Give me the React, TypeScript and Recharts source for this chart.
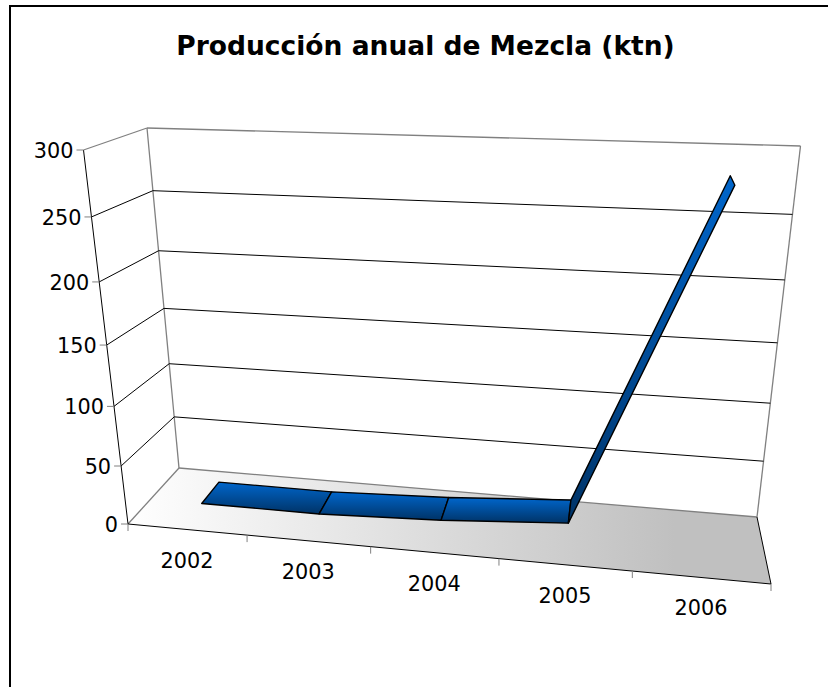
import { LineChart, Line, XAxis, YAxis, CartesianGrid } from 'recharts';

const years = ['2002', '2003', '2004', '2005', '2006'];
const production = [6, 6, 10, 17, 282];
const valueTicks = [0, 50, 100, 150, 200, 250, 300];

const WIDTH = 828;
const HEIGHT = 687;
const FONT = '"DejaVu Sans", Verdana, sans-serif';
// the axes take 1px each (a 0px axis draws nothing), so the plot is 100..700 by 100..600
const MARGIN = { top: 100, right: 128, bottom: 86, left: 99 };
const PLOT_LEFT = 100;
const PLOT_W = 600;
const PLOT_BOTTOM = 600;
const PLOT_H = 500;

// corners of the 3D box on screen: [depth: front/back][side: left/right][height: floor/top]
type Pt = [number, number];
const BOX: Pt[][][] = [
  [
    [[128, 524], [83.5, 150]],
    [[771, 584], [822, 169]],
  ],
  [
    [[179, 468], [147, 128]],
    [[757, 517], [800.5, 146]],
  ],
];
const RIBBON_FRONT = 0.34;
const RIBBON_BACK = 0.72;

const warp = (t: number, r: number) => t / (t + (1 - t) * r);
const mix = (a: Pt, b: Pt, t: number): Pt => [a[0] + (b[0] - a[0]) * t, a[1] + (b[1] - a[1]) * t];

// u along the categories, v up the value axis, w into the depth, all 0..1
function project(u: number, v: number, w: number): Pt {
  const s = warp(u, 1.1);
  const tf = warp(v, 1.09);
  const tb = warp(v, 1.13);
  const front = mix(mix(BOX[0][0][0], BOX[0][0][1], tf), mix(BOX[0][1][0], BOX[0][1][1], tf), s);
  const back = mix(mix(BOX[1][0][0], BOX[1][0][1], tb), mix(BOX[1][1][0], BOX[1][1][1], tb), s);
  return mix(front, back, w);
}

const toU = (x: number) => (x - PLOT_LEFT) / PLOT_W;
const toV = (y: number) => (PLOT_BOTTOM - y) / PLOT_H;
const poly = (pts: Pt[]) => pts.map((p) => p.join(',')).join(' ');

function Seg({ a, b, color = '#000', width = 1 }: { a: Pt; b: Pt; color?: string; width?: number }) {
  return <line x1={a[0]} y1={a[1]} x2={b[0]} y2={b[1]} stroke={color} strokeWidth={width} />;
}

// CartesianGrid line for one value tick: floor at 0, wall lines above it
function WallLine({ y1 }: any) {
  const v = toV(y1);
  if (v < 0.001) {
    return (
      <g>
        <polygon points={poly([project(0, 0, 0), project(1, 0, 0), project(1, 0, 1), project(0, 0, 1)])} fill="url(#floorFill)" />
        <Seg a={project(0, 0, 0)} b={project(0, 0, 1)} color="#808080" width={1.3} />
        <Seg a={project(0, 0, 1)} b={project(1, 0, 1)} color="#808080" width={1.3} />
        <Seg a={project(1, 0, 0)} b={project(1, 0, 1)} />
        <Seg a={project(0, 0, 0)} b={project(1, 0, 0)} />
        <Seg a={project(0, 0, 1)} b={project(0, 1, 1)} color="#808080" width={1.3} />
        <Seg a={project(1, 0, 1)} b={project(1, 1, 1)} color="#808080" width={1.3} />
        <Seg a={project(0, 0, 0)} b={project(0, 1, 0)} />
      </g>
    );
  }
  const color = v > 0.999 ? '#808080' : '#000';
  return (
    <g>
      <Seg a={project(0, v, 0)} b={project(0, v, 1)} color={color} width={v > 0.999 ? 1.3 : 1} />
      <Seg a={project(0, v, 1)} b={project(1, v, 1)} color={color} width={v > 0.999 ? 1.3 : 1} />
    </g>
  );
}

function ValueTick({ y, payload }: any) {
  const front = project(0, toV(y), 0);
  return (
    <g>
      <Seg a={[front[0] - 7, front[1]]} b={front} color="#808080" />
      <text x={front[0] - 10} y={front[1] + 8} textAnchor="end" fontFamily={FONT} fontSize={20.8} fill="#000">
        {payload.value}
      </text>
    </g>
  );
}

function YearTick({ x, payload, index }: any) {
  const u = toU(x);
  const axisPt = project(u, 0, 0);
  const halfBand = 0.5 / years.length;
  const right = project(u + halfBand, 0, 0);
  const left = project(u - halfBand, 0, 0);
  return (
    <g>
      {index === 0 && <Seg a={left} b={[left[0], left[1] + 7]} color="#808080" />}
      <Seg a={right} b={[right[0], right[1] + 7]} color="#808080" />
      <text x={axisPt[0]} y={axisPt[1] + 38} textAnchor="middle" fontFamily={FONT} fontSize={20.8} fill="#000">
        {payload.value}
      </text>
    </g>
  );
}

// one ribbon segment from this point to the next one
function RibbonDot({ cx, cy, index, points }: any) {
  const next = points?.[index + 1];
  if (!next) return <g key={index} />;
  const u0 = toU(cx);
  const v0 = toV(cy);
  const u1 = toU(next.x);
  const v1 = toV(next.y);
  const quad = [project(u0, v0, RIBBON_FRONT), project(u1, v1, RIBBON_FRONT), project(u1, v1, RIBBON_BACK), project(u0, v0, RIBBON_BACK)];
  return <polygon key={index} points={poly(quad)} fill="url(#ribbonFill)" stroke="#000" strokeWidth={1.4} strokeLinejoin="round" />;
}

export default function App() {
  const data = years.map((year, i) => ({ year, value: production[i] }));
  return (
    <div style={{ position: 'absolute', left: 0, top: 0, width: WIDTH, height: HEIGHT, background: '#fff', overflow: 'hidden' }}>
      <div style={{ position: 'absolute', left: 9, top: 5, width: WIDTH, height: HEIGHT, borderLeft: '2px solid #000', borderTop: '2px solid #000' }} />
      <LineChart width={WIDTH} height={HEIGHT} data={data} margin={MARGIN} style={{ position: 'absolute', left: 0, top: 0 }}>
        <defs>
          <linearGradient id="floorFill" x1="0" y1="0" x2="1" y2="0">
            <stop offset="0" stopColor="#ffffff" />
            <stop offset="0.85" stopColor="#c0c0c0" />
          </linearGradient>
          <linearGradient id="ribbonFill" x1="0" y1="0" x2="0" y2="1">
            <stop offset="0" stopColor="#0066cc" />
            <stop offset="1" stopColor="#003366" />
          </linearGradient>
        </defs>
        <text x={425.5} y={55} textAnchor="middle" fontFamily={FONT} fontWeight="bold" fontSize={26.5} fill="#000">
          Producción anual de Mezcla (ktn)
        </text>
        <CartesianGrid vertical={false} horizontal={(props: any) => <WallLine key={props.index} {...props} />} />
        <YAxis width={1} domain={[0, 300]} ticks={valueTicks} interval={0} axisLine={false} tickLine={false} tick={<ValueTick />} />
        <XAxis dataKey="year" height={1} scale="band" interval={0} axisLine={false} tickLine={false} tick={<YearTick />} />
        <Line dataKey="value" stroke="none" isAnimationActive={false} activeDot={false} dot={(props: any) => <RibbonDot key={props.index} {...props} />} />
      </LineChart>
    </div>
  );
}
